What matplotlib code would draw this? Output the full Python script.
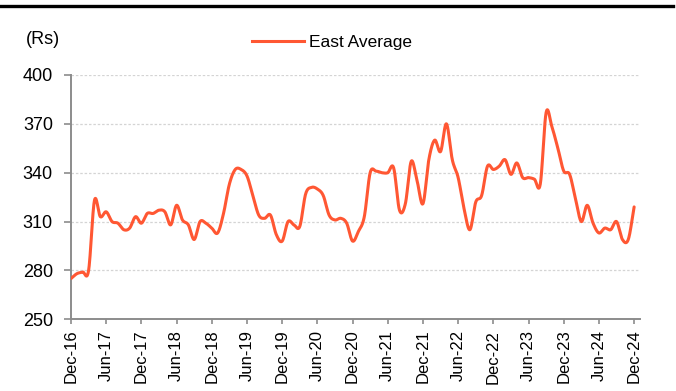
import matplotlib.pyplot as plt
from matplotlib.lines import Line2D
import numpy as np

plt.rcParams['font.family'] = ['Liberation Sans', 'DejaVu Sans']

# Monthly east average price, Dec-16 .. Dec-24
months = ['Dec-16', 'Jun-17', 'Dec-17', 'Jun-18', 'Dec-18', 'Jun-19', 'Dec-19', 'Jun-20',
          'Dec-20', 'Jun-21', 'Dec-21', 'Jun-22', 'Dec-22', 'Jun-23', 'Dec-23', 'Jun-24', 'Dec-24']
east_avg = [275, 278, 279, 280, 323, 313, 316, 310, 309, 305, 306, 313,
            309, 315, 315, 317, 316, 308, 320, 311, 308, 299, 310, 309,
            306, 303, 315, 333, 342, 342, 338, 326, 314, 312, 314, 302,
            298, 310, 308, 307, 327, 331, 330, 326, 314, 311, 312, 309,
            298, 304, 313, 340, 341, 340, 340, 343, 317, 321, 347, 335,
            321, 348, 360, 353, 370, 348, 337, 318, 305, 322, 326, 344,
            342, 344, 348, 339, 346, 337, 337, 336, 333, 377, 368, 355,
            341, 339, 324, 310, 320, 309, 303, 306, 305, 310, 299, 299,
            319]
yticks = [250, 280, 310, 340, 370, 400]

line_color = '#FF5733'
axis_color = '#8C8C8C'


def smooth(y, steps=20):
    # cubic Hermite with Catmull-Rom tangents, like a spreadsheet "smoothed line"
    y = np.asarray(y, dtype=float)
    n = len(y)
    t = np.empty(n)
    t[1:-1] = (y[2:] - y[:-2]) / 2
    t[0] = y[1] - y[0]
    t[-1] = y[-1] - y[-2]
    xs, ys = [], []
    s = np.linspace(0, 1, steps, endpoint=False)
    h00 = 2 * s**3 - 3 * s**2 + 1
    h10 = s**3 - 2 * s**2 + s
    h01 = -2 * s**3 + 3 * s**2
    h11 = s**3 - s**2
    for i in range(n - 1):
        xs.append(i + s)
        ys.append(h00 * y[i] + h10 * t[i] + h01 * y[i + 1] + h11 * t[i + 1])
    xs.append([n - 1])
    ys.append([y[-1]])
    return np.concatenate(xs), np.concatenate(ys)


fig = plt.figure(figsize=(6.76, 3.91), dpi=100)
ax = fig.add_axes([71 / 676, 1 - 319.3 / 391, (640 - 71) / 676, (319.3 - 75) / 391])

sx, sy = smooth(east_avg)
ax.plot(sx, sy, color=line_color, lw=2.2, solid_capstyle='round', label='East Average', zorder=3)

ax.set_xlim(0, len(east_avg))
ax.set_ylim(250, 400)
ax.set_yticks(yticks)
ax.set_xticks(np.arange(0, len(east_avg), 6))
ax.set_xticklabels(months, rotation=90)

for v in yticks[1:]:
    ax.axhline(v, color='#D4D4D4', lw=0.9, ls=(0, (2, 1.5)), zorder=1)

for side in ['top', 'right']:
    ax.spines[side].set_visible(False)
for side in ['left', 'bottom']:
    ax.spines[side].set_color(axis_color)
    ax.spines[side].set_linewidth(1.4)

ax.tick_params(axis='y', length=5, width=1.2, color=axis_color, pad=8, labelsize=13)
ax.tick_params(axis='x', length=3.5, width=1.2, color=axis_color, pad=4, labelsize=12)

fig.text(26 / 676, 1 - 40 / 391, '(Rs)', fontsize=13, va='center', ha='left')

fig.legend(handles=[Line2D([], [], color=line_color, lw=2.2)], labels=['East Average'],
           loc='center left', bbox_to_anchor=(252 / 676, 1 - 42 / 391), frameon=False,
           fontsize=12.5, handlelength=3.0, handletextpad=0.3, borderpad=0, borderaxespad=0)

fig.add_artist(Line2D([0, 673 / 676], [1 - 5.5 / 391] * 2, color='black', lw=2.4,
                      transform=fig.transFigure))

fig.savefig('out.png', dpi=100)
